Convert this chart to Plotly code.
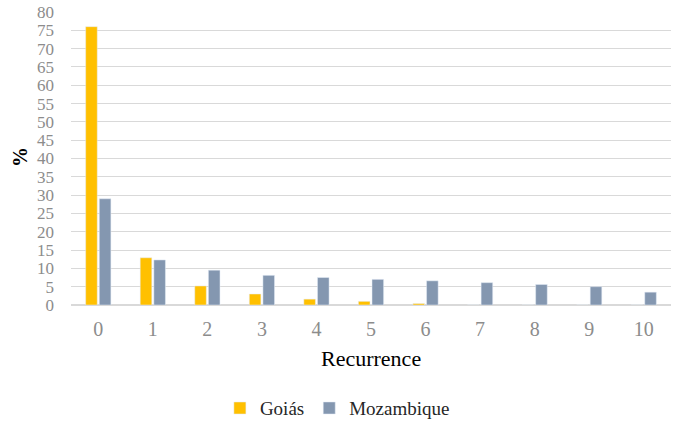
import plotly.graph_objects as go

categories = ["0", "1", "2", "3", "4", "5", "6", "7", "8", "9", "10"]
goias = [76.0, 12.9, 5.2, 3.0, 1.6, 1.0, 0.4, 0, 0, 0, 0]
mozambique = [29.0, 12.3, 9.5, 8.1, 7.5, 7.0, 6.6, 6.1, 5.6, 5.0, 3.5]
y_ticks = list(range(0, 85, 5))

serif = "Liberation Serif"

fig = go.Figure()
fig.add_trace(go.Bar(x=categories, y=goias, name="Goiás", marker_color="#FFC000"))
fig.add_trace(go.Bar(x=categories, y=mozambique, name="Mozambique", marker_color="#8497B0"))

fig.update_layout(
    width=680, height=421,
    margin=dict(l=71, r=9, t=12, b=116, autoexpand=False),
    plot_bgcolor="white", paper_bgcolor="white",
    barmode="group", bargap=0.5, bargroupgap=0.15,
    font=dict(family=serif, color="#8C8C8C"),
    showlegend=True,
    legend=dict(orientation="h", x=0.444, xanchor="center", y=-0.352, yanchor="middle",
                font=dict(family=serif, size=19, color="#262626"), itemwidth=30,
                traceorder="normal"),
    xaxis=dict(type="category", showgrid=False, showline=True, linecolor="#D9D9D9", linewidth=1,
               tickfont=dict(family=serif, size=20, color="#8C8C8C"), ticklabelstandoff=6),
    yaxis=dict(range=[0, 80], tickvals=y_ticks, showgrid=True, gridcolor="#D9D9D9", gridwidth=1,
               zeroline=True, zerolinecolor="#D9D9D9", showline=False,
               tickfont=dict(family=serif, size=17, color="#8C8C8C"), ticklabelstandoff=16,
               ticklabeloverflow="allow"),
    annotations=[
        dict(text="Recurrence", x=0.5, y=-0.181, xref="paper", yref="paper", showarrow=False,
             xanchor="center", yanchor="middle", font=dict(family=serif, size=22, color="#000000")),
        dict(text="<b>%</b>", x=-0.085, y=0.505, xref="paper", yref="paper", showarrow=False,
             textangle=-90, xanchor="center", yanchor="middle",
             font=dict(family=serif, size=20, color="#000000")),
    ],
)

fig.write_html("out.html", config={"displayModeBar": False},
               post_script="document.body.style.margin='0';")
